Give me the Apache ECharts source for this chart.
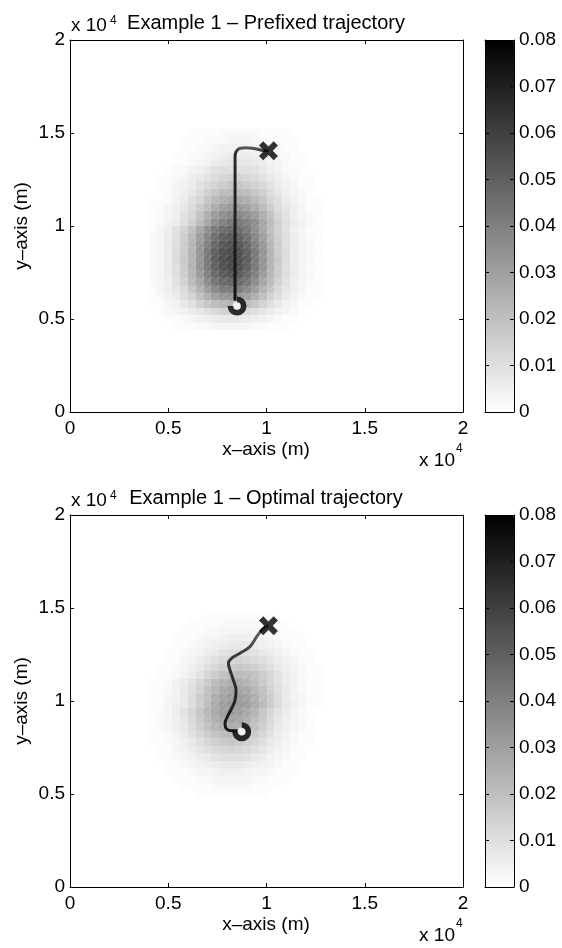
<!DOCTYPE html>
<html><head><meta charset="utf-8">
<script src="https://cdn.jsdelivr.net/npm/echarts@6/dist/echarts.min.js"></script>
<style>html,body{margin:0;padding:0;background:#fff}#c{width:562px;height:948px}</style>
</head><body><div id="c"></div>
<script>
// ---------------- data ----------------
const cellSize = 400;            // metres per heat-map cell (50 x 50 grid)
const blobFirstCol = 10;         // first column listed in each row below
const prefixedTopRow = 37;       // row index of first listed row (rows go downward)
// values in units of 0.001
const prefixedRows = [
[0,0,0,0,0,1,1,1,1,2,2,2,2,2,1,1,1,1,0,0,0,0],
[0,0,0,0,1,1,1,2,2,2,3,3,3,2,2,2,1,1,1,0,0,0],
[0,0,0,0,1,1,2,2,3,4,4,4,4,4,3,2,2,1,1,0,0,0],
[0,0,0,1,1,2,2,3,4,5,6,6,6,5,4,3,2,2,1,1,0,0],
[0,0,0,1,1,2,3,4,6,7,8,8,8,7,6,4,3,2,1,1,0,0],
[0,0,1,2,2,4,5,7,9,10,10,10,10,9,7,5,4,2,2,1,0,0],
[0,1,1,2,3,5,7,9,11,13,14,14,13,11,9,7,5,3,2,1,1,0],
[0,1,1,3,4,6,9,12,14,16,18,18,16,14,12,9,6,4,3,1,1,0],
[0,1,2,3,5,8,11,15,18,21,22,22,21,18,15,11,8,5,3,2,1,0],
[1,1,2,4,6,10,13,18,22,25,27,27,25,22,18,13,10,6,4,2,1,1],
[1,1,3,5,8,11,16,21,26,30,32,32,30,26,21,16,11,8,5,3,1,1],
[1,2,3,5,9,13,19,25,31,35,38,38,35,31,25,19,13,9,5,3,2,1],
[1,2,4,6,10,15,21,28,35,40,43,43,40,35,28,21,15,10,6,4,2,1],
[1,3,5,9,14,20,28,35,42,46,48,46,42,35,28,20,14,9,5,3,1,1],
[2,3,6,10,15,22,30,38,45,50,52,50,45,38,30,22,15,10,6,3,2,1],
[2,3,6,10,16,23,32,40,48,53,55,53,48,40,32,23,16,10,6,3,2,1],
[2,3,6,11,16,24,33,42,50,55,57,55,50,42,33,24,16,11,6,3,2,1],
[2,3,6,11,17,24,33,42,51,56,58,56,51,42,33,24,17,11,6,3,2,1],
[2,3,6,10,16,24,33,42,50,55,57,55,50,42,33,24,16,10,6,3,2,1],
[2,3,6,10,16,23,31,40,47,52,54,52,47,40,31,23,16,10,6,3,2,1],
[2,3,5,9,14,21,28,36,43,47,49,47,43,36,28,21,14,9,5,3,2,1],
[1,3,5,8,12,18,24,31,37,41,42,41,37,31,24,18,12,8,5,3,1,1],
[1,2,4,6,10,14,20,25,30,33,34,33,30,25,20,14,10,6,4,2,1,1],
[1,1,3,4,7,10,14,18,21,23,24,23,21,18,14,10,7,4,3,1,1,0],
[0,1,2,3,4,6,8,10,12,14,14,14,12,10,8,6,4,3,2,1,0,0],
[0,0,1,1,2,3,4,5,6,7,7,7,6,5,4,3,2,1,1,0,0,0],
[0,0,0,1,1,1,2,2,3,3,3,3,3,2,2,1,1,1,0,0,0,0]
];
const optimalTopRow = 36;
const optimalRows = [
[0,0,0,0,0,0,0,1,1,1,1,1,1,1,1,1,0,0,0,0,0,0],
[0,0,0,0,0,1,1,1,1,2,2,2,2,2,1,1,1,1,0,0,0,0],
[0,0,0,0,1,1,1,2,2,3,3,3,3,3,2,2,1,1,1,0,0,0],
[0,0,0,1,1,1,2,3,3,4,5,5,5,4,3,3,2,1,1,1,0,0],
[0,0,0,1,1,2,3,4,5,6,7,7,7,6,5,4,3,2,1,1,0,0],
[0,0,1,1,2,3,4,6,7,9,10,10,10,9,7,6,4,3,2,1,1,0],
[0,0,1,1,3,4,6,8,10,12,13,14,13,12,10,8,6,4,3,1,1,0],
[0,1,1,2,3,5,7,10,13,15,17,18,17,15,13,10,7,5,3,2,1,1],
[0,1,1,2,4,6,9,13,16,19,21,22,21,19,16,13,9,6,4,2,1,1],
[1,1,2,4,6,9,13,17,21,24,26,26,24,21,17,13,9,6,4,2,1,1],
[1,1,2,4,7,10,14,19,23,27,29,29,27,23,19,14,10,7,4,2,1,1],
[1,1,3,4,7,11,16,20,25,29,31,31,29,25,20,16,11,7,4,3,1,1],
[1,1,3,5,7,11,16,21,26,30,32,32,30,26,21,16,11,7,5,3,1,1],
[1,2,3,6,9,13,18,23,27,30,31,30,27,23,18,13,9,6,3,2,1,0],
[1,2,3,5,8,12,17,21,25,28,29,28,25,21,17,12,8,5,3,2,1,0],
[1,2,3,5,7,11,15,19,23,25,26,25,23,19,15,11,7,5,3,2,1,0],
[1,1,2,4,6,9,13,16,19,21,22,21,19,16,13,9,6,4,2,1,1,0],
[1,1,2,3,5,7,10,13,15,17,18,17,15,13,10,7,5,3,2,1,1,0],
[0,1,1,3,4,6,8,10,12,13,14,13,12,10,8,6,4,3,1,1,0,0],
[0,1,1,2,3,4,6,7,9,10,10,10,9,7,6,4,3,2,1,1,0,0],
[0,0,1,1,2,3,4,5,6,7,7,7,6,5,4,3,2,1,1,0,0,0],
[0,0,1,1,1,2,3,3,4,5,5,5,4,3,3,2,1,1,1,0,0,0],
[0,0,0,1,1,1,2,2,3,3,3,3,3,2,2,1,1,1,0,0,0,0],
[0,0,0,0,1,1,1,1,2,2,2,2,2,1,1,1,1,0,0,0,0,0],
[0,0,0,0,0,0,1,1,1,1,1,1,1,1,1,0,0,0,0,0,0,0]
];
const axisTicks = [0, 5000, 10000, 15000, 20000];
const axisTickLabels = ['0', '0.5', '1', '1.5', '2'];
const colorbarTicks = [0, 0.01, 0.02, 0.03, 0.04, 0.05, 0.06, 0.07, 0.08];
const colorbarTickLabels = ['0', '0.01', '0.02', '0.03', '0.04', '0.05', '0.06', '0.07', '0.08'];
const titles = ['Example 1 \u2013 Prefixed trajectory', 'Example 1 \u2013 Optimal trajectory'];
const prefixedPathX = [8400, 8400, 8400, 8400, 8450, 8650, 8990, 9500, 9920, 10100];
const prefixedPathY = [5980, 8000, 11000, 13700, 13990, 14180, 14210, 14140, 14050, 14050];
const optimalPathX = [8570, 8230, 7940, 7890, 8010, 8230, 8400, 8450, 8310, 8140, 8060, 8230, 8650, 9160, 9500, 9840, 10100];
const optimalPathY = [8400, 8400, 8530, 8800, 9160, 9610, 10050, 10590, 11130, 11670, 12030, 12300, 12570, 12920, 13460, 13900, 14050];
const prefixedStart = [8500, 5700];
const optimalStart = [8740, 8350];
const targetPoint = [10100, 14050];

// ---------------- chart ----------------
const FONT = '"Liberation Sans", Arial, Helvetica, sans-serif';
const FS = 19;
const chart = echarts.init(document.getElementById('c'), null, {renderer: 'canvas'});

function cells(rows, topRow) {
  const out = [];
  rows.forEach((r, k) => {
    const row = topRow - k;
    r.forEach((v, c) => {
      if (v > 0) out.push([(blobFirstCol + c) * cellSize, row * cellSize, v / 1000]);
    });
  });
  return out;
}
function zip(a, b) { return a.map((v, i) => [v, b[i]]); }

const tickFmt = v => { const i = axisTicks.indexOf(Math.round(v)); return i >= 0 ? axisTickLabels[i] : ''; };
const cbFmt = v => { const i = colorbarTicks.findIndex(t => Math.abs(t - v) < 1e-9); return i >= 0 ? colorbarTickLabels[i] : ''; };

const panels = [
  {top: 40, rows: prefixedRows, topRow: prefixedTopRow, pathX: prefixedPathX, pathY: prefixedPathY, start: prefixedStart,
   grad: [{offset: 0, color: '#6c6c6c'}, {offset: 0.05, color: '#2a2a2a'}, {offset: 1, color: '#121212'}]},
  {top: 515, rows: optimalRows, topRow: optimalTopRow, pathX: optimalPathX, pathY: optimalPathY, start: optimalStart,
   grad: [{offset: 0, color: '#707070'}, {offset: 0.3, color: '#383838'}, {offset: 1, color: '#151515'}]}
];
const PL = 70, PW = 393, PH = 372, CBL = 485, CBW = 29;

const grid = [], xAxis = [], yAxis = [], series = [], visualMap = [], graphic = [];
const axisLine = {show: true, onZero: false, lineStyle: {color: '#000', width: 1}};
const lbl = {color: '#000', fontFamily: FONT, fontSize: FS};

const ringPath = 'path://M0,-10 A10,10 0 1,1 -10,0 L-4,0 A4,4 0 1,0 0,-4 Z';
const crossPath = 'path://M0,4.5 L4.5,0 L10,5.5 L15.5,0 L20,4.5 L14.5,10 L20,15.5 L15.5,20 L10,14.5 L4.5,20 L0,15.5 L5.5,10 Z';

panels.forEach((p, pi) => {
  const g = grid.length;
  grid.push({left: PL, top: p.top, width: PW, height: PH, show: false});
  grid.push({left: CBL, top: p.top, width: CBW, height: PH, show: false});
  const xi = xAxis.length, yi = yAxis.length;
  const tick = {show: true, inside: true, length: 4, lineStyle: {color: '#000'}};
  xAxis.push({type: 'value', gridIndex: g, position: 'bottom', min: 0, max: 20000, interval: 5000, z: 10,
    axisLine, axisTick: tick,
    axisLabel: Object.assign({margin: 7, formatter: tickFmt, showMinLabel: true, showMaxLabel: true}, lbl),
    splitLine: {show: false}});
  xAxis.push({type: 'value', gridIndex: g, position: 'top', min: 0, max: 20000, interval: 5000, z: 10,
    axisLine, axisTick: tick, axisLabel: {show: false}, splitLine: {show: false}});
  yAxis.push({type: 'value', gridIndex: g, position: 'left', min: 0, max: 20000, interval: 5000, z: 10,
    axisLine, axisTick: tick,
    axisLabel: Object.assign({margin: 5, formatter: tickFmt}, lbl), splitLine: {show: false}});
  yAxis.push({type: 'value', gridIndex: g, position: 'right', min: 0, max: 20000, interval: 5000, z: 10,
    axisLine, axisTick: tick, axisLabel: {show: false}, splitLine: {show: false}});
  // colorbar axes
  xAxis.push({type: 'value', gridIndex: g + 1, position: 'bottom', min: 0, max: 1, z: 10, axisLine,
    axisTick: {show: false}, axisLabel: {show: false}, splitLine: {show: false}});
  xAxis.push({type: 'value', gridIndex: g + 1, position: 'top', min: 0, max: 1, z: 10, axisLine,
    axisTick: {show: false}, axisLabel: {show: false}, splitLine: {show: false}});
  yAxis.push({type: 'value', gridIndex: g + 1, position: 'right', min: 0, max: 0.08, interval: 0.01, z: 10,
    axisLine, axisTick: tick,
    axisLabel: Object.assign({margin: 5, formatter: cbFmt}, lbl), splitLine: {show: false}});
  yAxis.push({type: 'value', gridIndex: g + 1, position: 'left', min: 0, max: 0.08, interval: 0.01, z: 10,
    axisLine, axisTick: tick, axisLabel: {show: false}, splitLine: {show: false}});

  const si = series.length;
  series.push({
    type: 'custom', xAxisIndex: xi, yAxisIndex: yi, silent: true, z: 1,
    dimensions: ['x', 'y', 'v'], encode: {x: 0, y: 1},
    data: cells(p.rows, p.topRow),
    renderItem: (params, api) => {
      const x = api.value(0), y = api.value(1);
      const a = api.coord([x, y]), b = api.coord([x + cellSize, y + cellSize]);
      const l = Math.round(a[0]), r = Math.round(b[0]), t = Math.round(b[1]), bt = Math.round(a[1]);
      const color = api.visual('color');
      return {type: 'group', children: [
        {type: 'rect', shape: {x: l, y: t, width: r - l, height: bt - t}, style: {fill: color, stroke: 'rgba(255,255,255,0.10)', lineWidth: 0.6}},
        {type: 'line', shape: {x1: l, y1: bt, x2: r, y2: t}, style: {stroke: 'rgba(255,255,255,0.22)', lineWidth: 0.7}}
      ]};
    }
  });
  series.push({type: 'line', xAxisIndex: xi, yAxisIndex: yi, data: zip(p.pathX, p.pathY), smooth: 0.35,
    showSymbol: false, silent: true, z: 3,
    lineStyle: {width: 3, color: new echarts.graphic.LinearGradient(0, 0, 0, 1, p.grad)}});
  series.push({type: 'scatter', xAxisIndex: xi, yAxisIndex: yi, data: [p.start], symbol: 'circle', symbolSize: 9,
    silent: true, z: 4, itemStyle: {color: '#fff'}});
  series.push({type: 'scatter', xAxisIndex: xi, yAxisIndex: yi, data: [p.start], symbol: ringPath, symbolSize: 19,
    silent: true, z: 5, itemStyle: {color: '#000'}});
  series.push({type: 'scatter', xAxisIndex: xi, yAxisIndex: yi, data: [targetPoint], symbol: crossPath, symbolSize: 19,
    silent: true, z: 5, itemStyle: {color: '#000'}});

  visualMap.push({type: 'continuous', min: 0, max: 0.08, dimension: 2, seriesIndex: si,
    inRange: {color: ['#ffffff', '#000000']}, calculable: false, left: CBL, top: p.top,
    itemWidth: CBW, itemHeight: PH, padding: 0, text: null, hoverLink: false, z: 2});

  const T = p.top;
  const ts = (text, x, y, align, size, extra) => Object.assign({type: 'text', x, y, silent: true,
    style: {text, fill: '#000', font: size + 'px ' + FONT, align, verticalAlign: 'middle'}}, extra || {});
  graphic.push(ts(titles[pi], 266, T - 17, 'center', 20));
  graphic.push(ts('x 10', 71, T - 14, 'left', FS));
  graphic.push(ts('4', 110, T - 19, 'left', 12));
  graphic.push(ts('x\u2013axis (m)', 266, T + 410, 'center', FS));
  graphic.push(ts('x 10', 455, T + 421, 'right', FS));
  graphic.push(ts('4', 456, T + 409, 'left', 12));
  graphic.push(ts('y\u2013axis (m)', 22, T + 186, 'center', FS, {rotation: Math.PI / 2}));
});

chart.setOption({animation: false, backgroundColor: '#fff', grid, xAxis, yAxis, series, visualMap, graphic});
</script>
</body></html>
